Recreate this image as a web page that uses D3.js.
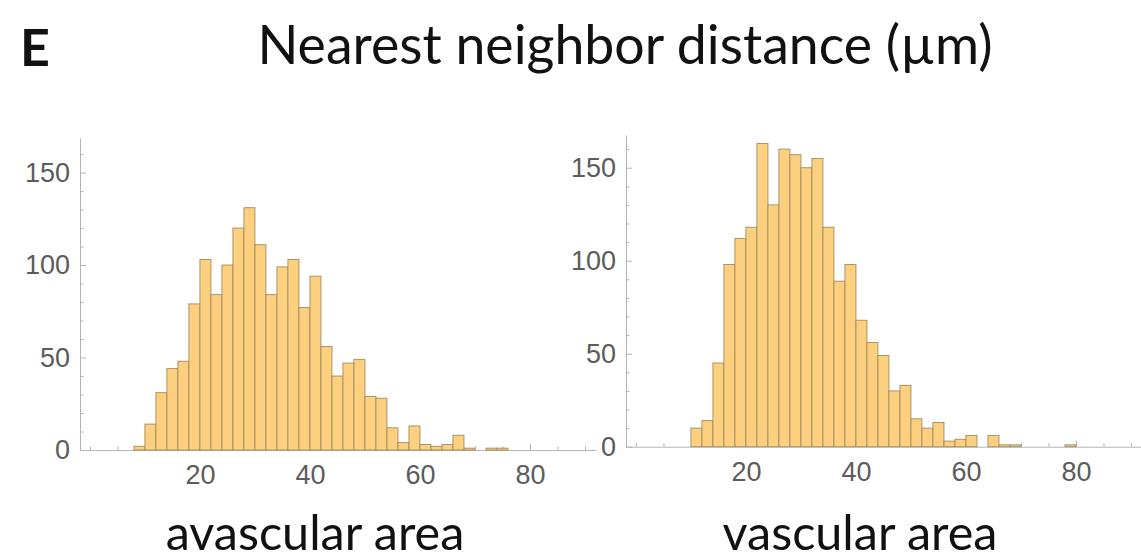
<!DOCTYPE html>
<html>
<head>
<meta charset="utf-8">
<script src="https://cdn.jsdelivr.net/npm/d3@7"></script>
<style>
  body{margin:0;background:#fff;}
  svg{display:block;}
  .tick text{font-family:"Liberation Sans",Arial,sans-serif;font-size:27px;fill:#5c5c5c;}
  .tick line{stroke:#b4b4b4;}
  .domain{stroke:#b4b4b4;}
  .lbl{font-family:Lato,"Open Sans",sans-serif;fill:#111;}
</style>
</head>
<body>
<svg id="svg" width="1141" height="560"></svg>
<script>
// histogram counts, bin width 2 µm
const binWidth = 2;
const avascularStart = 8;
const avascularCounts = [2,14,31,44,48,79,103,84,100,120,131,111,84,99,103,77,94,56,40,47,49,29,28,12,4,13,3,2,3,8,1,0,1,1];
const vascularStart = 10;
const vascularCounts = [10,14,45,98,112,118,163,130,160,157,150,155,118,89,98,68,56,49,30,33,15,10,13,3,4,6,0,6,1,1,0,0,0,0,1];

const xMajor = [20,40,60,80];
const xMinor = [0,5,10,15,25,30,35,45,50,55,65,70,75,85,90];
const yMajor = [0,50,100,150];
const yMinor = [10,20,30,40,60,70,80,90,110,120,130,140,160];

const mainTitle = "Nearest neighbor distance (µm)";
const panelLetter = "E";

const panels = [
  {name:"avascular area", start:avascularStart, counts:avascularCounts,
   x0:80, x1:596, yBase:450, yTop:138, yMax:168.7, labelX:315},
  {name:"vascular area", start:vascularStart, counts:vascularCounts,
   x0:626, x1:1142, yBase:446.7, yTop:135, yMax:167.6, labelX:860}
];

const svg = d3.select("#svg");

function fitText(sel, width){
  const w = sel.node().getComputedTextLength();
  const fs = parseFloat(sel.attr("font-size"));
  sel.attr("font-size", fs*width/w);
  return fs*width/w;
}

panels.forEach(p=>{
  const x = d3.scaleLinear().domain([-1.8, 92]).range([p.x0, p.x1]);
  const y = d3.scaleLinear().domain([0, p.yMax]).range([p.yBase, p.yTop]);
  const g = svg.append("g");

  // minor ticks
  g.append("g")
    .attr("transform", `translate(0,${p.yBase})`)
    .call(d3.axisBottom(x).tickValues(xMinor).tickSize(-3.5).tickFormat(""))
    .call(a=>a.select(".domain").remove());
  g.append("g")
    .attr("transform", `translate(${p.x0},0)`)
    .call(d3.axisLeft(y).tickValues(yMinor).tickSize(-3.5).tickFormat(""))
    .call(a=>a.select(".domain").remove());

  // major ticks + lines
  g.append("g")
    .attr("transform", `translate(0,${p.yBase})`)
    .call(d3.axisBottom(x).tickValues(xMajor).tickSizeInner(-6).tickSizeOuter(0).tickPadding(15));
  g.append("g")
    .attr("transform", `translate(${p.x0},0)`)
    .call(d3.axisLeft(y).tickValues(yMajor).tickSizeInner(-6).tickSizeOuter(0).tickPadding(10));

  // bars
  g.append("g").selectAll("rect")
    .data(p.counts.map((c,i)=>({lo:p.start+i*binWidth, hi:p.start+(i+1)*binWidth, c})).filter(d=>d.c>0))
    .enter().append("rect")
    .attr("x", d=>x(d.lo))
    .attr("width", d=>x(d.hi)-x(d.lo))
    .attr("y", d=>y(d.c))
    .attr("height", d=>p.yBase-y(d.c))
    .attr("fill", "#fdd07f")
    .attr("stroke", "#a38c5e")
    .attr("stroke-width", 0.9);
});

// labels
const lblSize = [];
panels.forEach(p=>{
  const t = svg.append("text").attr("class","lbl")
    .attr("x", p.labelX).attr("y", 550)
    .attr("text-anchor","middle")
    .attr("font-size", 40)
    .text(p.name);
  lblSize.push(t);
});
const fs = fitText(lblSize[1], 275);
lblSize[0].attr("font-size", fs);

const title = svg.append("text").attr("class","lbl")
  .attr("x", 625).attr("y", 64)
  .attr("text-anchor","middle")
  .attr("font-size", 40)
  .text(mainTitle);
fitText(title, 735);

svg.append("text").attr("class","lbl")
  .attr("x", 20).attr("y", 66)
  .attr("font-size", 52)
  .attr("font-weight", "bold")
  .text(panelLetter);
</script>
</body>
</html>
